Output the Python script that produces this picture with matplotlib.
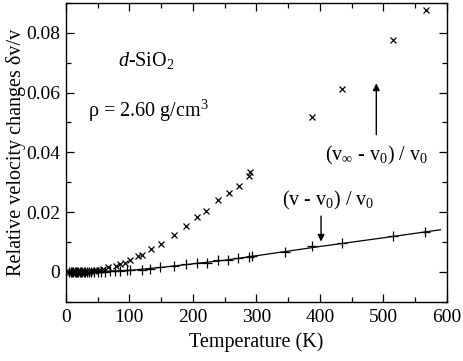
import matplotlib
matplotlib.use("Agg")
import matplotlib.pyplot as plt
from matplotlib.ticker import MultipleLocator, FuncFormatter

plt.rcParams['font.family'] = ['Liberation Serif', 'DejaVu Serif']
plt.rcParams['mathtext.fontset'] = 'custom'
plt.rcParams['mathtext.rm'] = 'Liberation Serif'
plt.rcParams['mathtext.it'] = 'Liberation Serif:italic'

# (v_inf - v0)/v0  (x markers)
T_inf = [5, 8, 10, 12, 14, 16, 18, 20, 22, 24, 26, 28, 30, 33, 36, 40, 44, 48,
         53, 59, 67, 79, 85, 93, 101, 113, 120, 135, 150, 170, 190, 207, 221,
         240, 257, 273, 288, 290, 387, 435, 515, 567]
dv_inf = [0.0000, 0.0001, -0.0001, 0.0000, 0.0001, 0.0000, -0.0001, 0.0001, 0.0000,
          0.0000, 0.0001, -0.0001, 0.0000, 0.0001, 0.0000, 0.0002, 0.0003, 0.0005,
          0.0007, 0.0011, 0.0017, 0.0019, 0.0025, 0.0031, 0.0039, 0.0053, 0.0058,
          0.0078, 0.0095, 0.0122, 0.0152, 0.0183, 0.0203, 0.0239, 0.0263, 0.0289,
          0.0322, 0.0333, 0.0517, 0.0611, 0.0775, 0.0875]

# (v - v0)/v0  (+ markers)
T_v = [5, 8, 10, 12, 14, 16, 18, 20, 22, 24, 26, 28, 30, 33, 36, 40, 45, 50, 55,
       62, 70, 78, 85, 96, 101, 120, 133, 148, 170, 190, 207, 222, 239, 256, 272,
       289, 293, 345, 387, 435, 515, 566]
dv_v = [0.0000, 0.0001, -0.0001, 0.0000, 0.0001, -0.0001, 0.0000, 0.0001, 0.0000,
        -0.0001, 0.0000, 0.0001, 0.0000, -0.0001, 0.0000, 0.0000, 0.0001, 0.0000,
        0.0001, 0.0001, 0.0002, 0.0003, 0.0004, 0.0006, 0.0006, 0.0006, 0.0009,
        0.0015, 0.0019, 0.0025, 0.0031, 0.0031, 0.0039, 0.0041, 0.0045, 0.0050,
        0.0052, 0.0068, 0.0085, 0.0097, 0.0119, 0.0133]

# fitted curve through (v - v0)/v0
T_fit = [0, 50, 100, 150, 200, 250, 300, 400, 500, 590]
dv_fit = [0.0, 0.0001, 0.0005, 0.0015, 0.0027, 0.0039, 0.0054, 0.0085, 0.0114, 0.0141]

FS = 14.5

fig = plt.figure(figsize=(4.63, 3.61), dpi=100)
ax = fig.add_axes([0.142, 0.164, 0.823, 0.828])

ax.plot(T_fit, dv_fit, color='black', lw=0.9)
ax.plot(T_inf, dv_inf, linestyle='none', marker='x', ms=5, mew=0.9, color='black')
ax.plot(T_v, dv_v, linestyle='none', marker='+', ms=6.5, mew=0.9, color='black')

ax.set_xlim(0, 600)
ax.set_ylim(-0.01, 0.09)
ax.xaxis.set_major_locator(MultipleLocator(100))
ax.xaxis.set_minor_locator(MultipleLocator(50))
ax.yaxis.set_major_locator(MultipleLocator(0.02))
ax.yaxis.set_minor_locator(MultipleLocator(0.01))
ax.yaxis.set_major_formatter(FuncFormatter(lambda v, p: f"{round(v, 4):g}"))
ax.tick_params(which='both', direction='in', top=True, right=True, labelsize=14)
ax.tick_params(which='major', length=6, width=0.9)
ax.tick_params(which='minor', length=3.5, width=0.9)
ax.tick_params(axis='y', pad=4)
ax.tick_params(axis='x', pad=5)
for s in ax.spines.values():
    s.set_linewidth(1.0)

ax.set_xlabel('Temperature (K)', fontsize=FS, labelpad=5)
ax.set_ylabel('Relative velocity changes δv/v', fontsize=FS, labelpad=0)

ax.text(127, 0.0706, r'$\mathit{d}$-SiO$_2$', fontsize=FS, ha='center', va='center')
ax.text(35, 0.0539, r'ρ = 2.60 g/cm$^3$', fontsize=FS, ha='left', va='center')

ax.text(490, 0.0389, r'(v$_\infty$ - v$_0$) / v$_0$', fontsize=FS, ha='center', va='center')
ax.annotate('', xy=(489, 0.0640), xytext=(489, 0.0450),
            arrowprops=dict(arrowstyle='-|>', color='black', lw=1.0, mutation_scale=10))
ax.text(413, 0.0239, r'(v - v$_0$) / v$_0$', fontsize=FS, ha='center', va='center')
ax.annotate('', xy=(402, 0.0092), xytext=(402, 0.0196),
            arrowprops=dict(arrowstyle='-|>', color='black', lw=1.0, mutation_scale=10))

fig.savefig('out.png', dpi=100)
